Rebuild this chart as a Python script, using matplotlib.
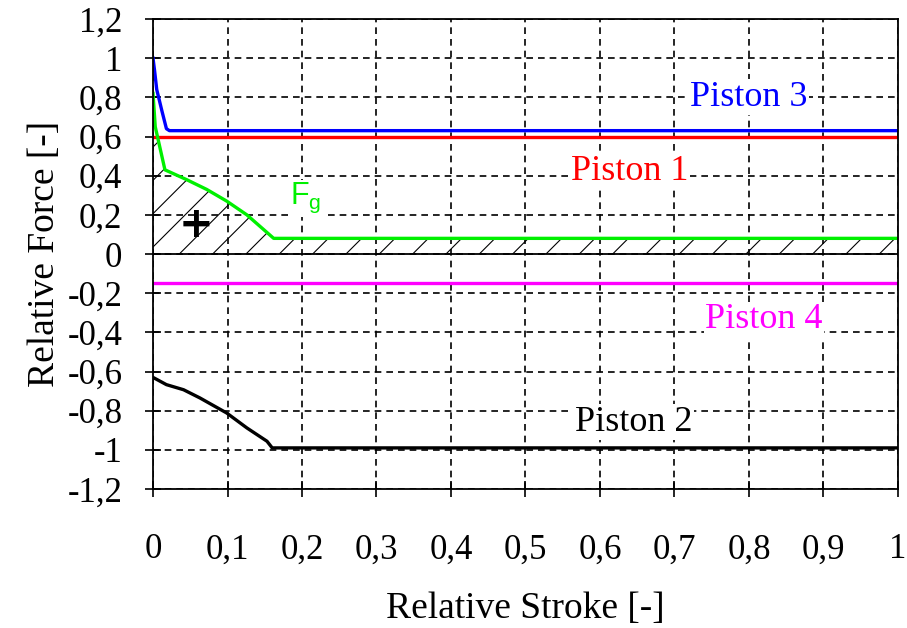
import matplotlib.pyplot as plt
import numpy as np

plt.rcParams["font.family"] = ["Liberation Serif", "DejaVu Serif"]
plt.rcParams["hatch.linewidth"] = 0.8

# piston 3 (blue)
p3_x = [0.0, 0.002, 0.005, 0.012, 0.018, 0.022, 1.0]
p3_y = [1.0, 0.94, 0.84, 0.73, 0.64, 0.63, 0.63]

# piston 1 (red)
p1_x = [0.0, 1.0]
p1_y = [0.6, 0.6]

# gas force Fg (green)
fg_x = [0.0, 0.003, 0.016, 0.045, 0.072, 0.099, 0.126, 0.162, 1.0]
fg_y = [0.82, 0.65, 0.43, 0.38, 0.33, 0.27, 0.2, 0.08, 0.08]

# piston 4 (magenta)
p4_x = [0.0, 1.0]
p4_y = [-0.15, -0.15]

# piston 2 (black)
p2_x = [0.0, 0.018, 0.041, 0.063, 0.099, 0.126, 0.153, 0.16, 1.0]
p2_y = [-0.63, -0.667, -0.693, -0.735, -0.812, -0.888, -0.956, -0.99, -0.99]

x_ticks = np.round(np.arange(0, 1.01, 0.1), 1)
y_ticks = np.round(np.arange(-1.2, 1.21, 0.2), 1)


def comma(v):
    s = ("%g" % v).replace(".", ",")
    return "0" if s in ("-0", "0") else s


fig = plt.figure(figsize=(9.07, 6.28), dpi=100)
ax = fig.add_axes([0.1687, 0.2213, 0.8213, 0.7484])

ax.fill_between(fg_x, 0, fg_y, facecolor="none", edgecolor="black",
                hatch="/", linewidth=0)

ax.plot(p1_x, p1_y, color="#ff0000", lw=2.4)
ax.plot(p3_x, p3_y, color="#0000ff", lw=2.4)
ax.plot(fg_x, fg_y, color="#00f000", lw=2.4)
ax.plot(p4_x, p4_y, color="#ff00ff", lw=2.4)
ax.plot(p2_x, p2_y, color="black", lw=2.4)
ax.axhline(0, color="black", lw=1.3, zorder=1)

ax.set_xlim(0, 1)
ax.set_ylim(-1.2, 1.2)
ax.set_xticks(x_ticks)
ax.set_yticks(y_ticks)
ax.set_xticklabels([comma(v) for v in x_ticks])
ax.set_yticklabels([comma(v) for v in y_ticks])
ax.tick_params(axis="x", direction="inout", length=12, width=1.2,
               labelsize=25, pad=26)
ax.tick_params(axis="y", direction="inout", length=12, width=1.2,
               labelsize=25, pad=16)
ax.grid(True, color="black", linestyle=(0, (4, 3)), lw=1.2)
for sp in ax.spines.values():
    sp.set_linewidth(1.3)

ax.set_xlabel("Relative Stroke [-]", fontsize=27, labelpad=18)
ax.set_ylabel("Relative Force [-]", fontsize=27, labelpad=4)

box = dict(facecolor="white", edgecolor="none", pad=1)
ax.text(0.80, 0.80, "Piston 3", color="#0000ff", fontsize=26,
        ha="center", va="center", bbox=box)
ax.text(0.64, 0.42, "Piston 1", color="#ff0000", fontsize=26,
        ha="center", va="center", bbox=box)
ax.text(0.82, -0.335, "Piston 4", color="#ff00ff", fontsize=26,
        ha="center", va="center", bbox=box)
ax.text(0.645, -0.86, "Piston 2", color="black", fontsize=26,
        ha="center", va="center", bbox=box)
ax.text(0.205, 0.285, r"F$_\mathregular{g}$", color="#00f000", fontsize=22,
        family="Liberation Sans", ha="center", va="center", bbox=box)
ax.text(0.058, 0.148, "+", color="black", fontsize=30, fontweight="bold",
        family="DejaVu Sans", ha="center", va="center")

fig.savefig("out.png", dpi=100)
